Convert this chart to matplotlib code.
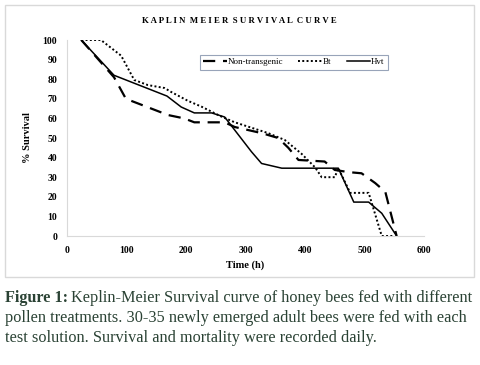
import matplotlib
matplotlib.use("Agg")
import matplotlib.pyplot as plt
from matplotlib.patches import Rectangle

plt.rcParams['font.family'] = ['Liberation Serif', 'DejaVu Serif']

# values (time in hours, % survival)
nt_time = [24, 79, 99, 170, 197, 214, 265, 282, 327, 355, 372, 389, 433, 450, 473, 495, 518, 535, 554]
nt_surv = [100, 81, 70, 61.7, 60, 58, 58, 55.6, 52.5, 50, 45, 38.8, 38, 33.7, 32.6, 32, 27, 22.5, 0]

bt_time = [24, 57, 91, 113, 136, 164, 175, 203, 226, 259, 282, 338, 366, 394, 417, 428, 450, 456, 476, 507, 529, 550]
bt_surv = [100, 100, 92, 79.6, 77, 75.5, 73.5, 69, 66, 61, 58, 52.5, 49, 42, 35, 30, 30, 34.6, 22, 22, 0, 0]

hvt_time = [24, 79, 168, 192, 214, 243, 265, 282, 310, 327, 361, 456, 482, 507, 529, 554]
hvt_surv = [100, 82, 71.4, 65.8, 62.8, 62.8, 60.7, 54, 43, 37, 34.6, 34.6, 17.3, 17.3, 11.6, 0]

x_ticks = [0, 100, 200, 300, 400, 500, 600]
y_ticks = [0, 10, 20, 30, 40, 50, 60, 70, 80, 90, 100]

fig = plt.figure(figsize=(4.8, 3.65), dpi=100)

# light chart frame
fig.patches.append(Rectangle((5 / 480, 1 - 277 / 365), 469 / 480, 272 / 365,
                             transform=fig.transFigure, fill=False,
                             edgecolor="#d9d9d9", linewidth=1.0))

ax = fig.add_axes([67 / 480, 1 - 236 / 365, 357 / 480, 196 / 365])
ax.plot(nt_time, nt_surv, color="black", lw=1.6, dashes=(5.5, 3.5), label="Non-transgenic")
ax.plot(bt_time, bt_surv, color="black", lw=1.4, linestyle=(0, (1, 1.2)), label="Bt")
ax.plot(hvt_time, hvt_surv, color="black", lw=1.1, label="Hvt")

ax.set_xlim(0, 600)
ax.set_ylim(0, 100)
ax.set_xticks(x_ticks)
ax.set_yticks(y_ticks)
ax.tick_params(length=0, labelsize=7, pad=7)
for lab in ax.get_xticklabels() + ax.get_yticklabels():
    lab.set_fontweight("bold")
for s in ["top", "right"]:
    ax.spines[s].set_visible(False)
for s in ["left", "bottom"]:
    ax.spines[s].set_color("#d9d9d9")
    ax.spines[s].set_linewidth(0.8)

ax.set_xlabel("Time (h)", fontsize=7.5, fontweight="bold", labelpad=4)
ax.set_ylabel("% Survival", fontsize=7.5, fontweight="bold", labelpad=8)

leg = ax.legend(loc="upper left", bbox_to_anchor=((200 - 67) / 357, (236 - 55) / 196),
                ncol=3, fontsize=6.5, frameon=True, fancybox=False,
                handlelength=2.6, columnspacing=1.7, handletextpad=0.1,
                borderpad=0.35, borderaxespad=0)
leg.get_frame().set_edgecolor("#7f8ea8")
leg.get_frame().set_linewidth(0.8)

fig.text(239 / 480, 1 - 21 / 365, "K A P L I N  M E I E R  S U R V I V A L  C U R V E",
         ha="center", va="center", fontsize=6.3, fontweight="bold")

# caption below the chart
cap_color = "#2a4234"
cap_size = 11.7
renderer = fig.canvas.get_renderer()
head = fig.text(5 / 480, 1 - 298 / 365, "Figure 1:", fontsize=cap_size, color=cap_color,
                fontweight="bold", va="center", ha="left")
w = head.get_window_extent(renderer).width
fig.text((5 + w + 3) / 480, 1 - 298 / 365,
         "Keplin-Meier Survival curve of honey bees fed with different",
         fontsize=cap_size, color=cap_color, va="center", ha="left")
fig.text(5 / 480, 1 - 318 / 365,
         "pollen treatments. 30-35 newly emerged adult bees were fed with each",
         fontsize=cap_size, color=cap_color, va="center", ha="left")
fig.text(5 / 480, 1 - 338 / 365,
         "test solution. Survival and mortality were recorded daily.",
         fontsize=cap_size, color=cap_color, va="center", ha="left")

fig.savefig("out.png", dpi=100)
